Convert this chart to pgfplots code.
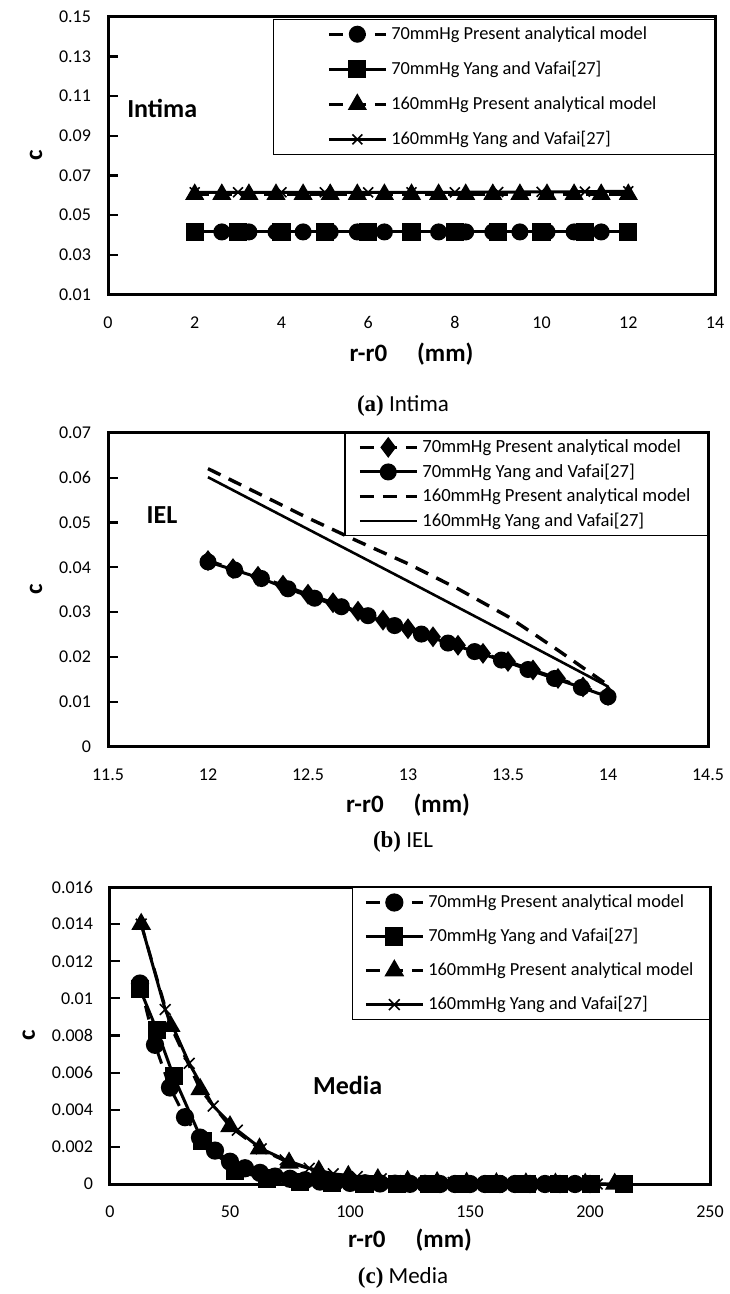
\documentclass[border=0pt]{standalone}
\usepackage{fontspec}
\setmainfont{Carlito}
\newfontfamily\capserif{Liberation Serif}
\usepackage{pgfplots}
\pgfplotsset{compat=1.18}

\pgfplotsset{
  panel/.style={
    scale only axis,
    anchor=south west,
    axis line style={line width=1.5pt},
    /pgf/number format/assume math mode=true,
    tick label style={font=\fontsize{9}{10}\selectfont},
    yticklabel style={/pgf/number format/fixed,/pgf/number format/precision=3,xshift=-5pt},
    xticklabel style={/pgf/number format/fixed,yshift=-7.5pt},
    scaled y ticks=false, scaled x ticks=false,
    xtick style={draw=none},
    ytick style={draw=black,line width=1.1pt},
    ytick pos=left,
    tick align=inside,
    major tick length=5pt,
    xlabel={\textbf{r-r0\hspace{1.2em}(mm)}},
    ylabel={\textbf{c}},
    ylabel style={yshift=1.5pt},
    label style={font=\fontsize{12.5}{14}\selectfont},
    legend cell align=left,
    legend style={draw=black,line width=0.6pt,anchor=north east,
      font=\fontsize{9.2}{10}\selectfont},
    legend image code/.code={\draw[mark repeat=2,mark phase=2]
      plot coordinates {(0cm,0cm) (0.5cm,0cm) (1cm,0cm)};},
  },
  ser/.style={black,line width=1.5pt,mark options={solid,fill=black}},
  dsh/.style={dash pattern=on 7pt off 4.5pt},
}

\begin{document}
\begin{tikzpicture}
\path[use as bounding box] (0,0) rectangle (364.5pt,-647pt);

% ---------- (a) Intima
\begin{axis}[panel, at={(54pt,-147.2pt)}, width=303.5pt, height=138.8pt,
  xmin=0, xmax=14, xtick={0,2,4,6,8,10,12,14},
  ymin=0.01, ymax=0.15, ytick={0.01,0.03,0.05,0.07,0.09,0.11,0.13,0.15},
  legend style={at={(1,0.993)},inner xsep=27pt,inner ysep=1.5pt,row sep=5.5pt}]
\addplot[ser,dsh,mark=*,mark size=3.5pt] coordinates {
(2,0.0415) (2.625,0.0415) (3.25,0.0415) (3.875,0.0415) (4.5,0.0415)
(5.125,0.0415) (5.75,0.0415) (6.375,0.0415) (7,0.0415) (7.625,0.0415)
(8.25,0.0415) (8.875,0.0415) (9.5,0.0415) (10.125,0.0415) (10.75,0.0415)
(11.375,0.0415) (12,0.0415)};
\addlegendentry{70mmHg Present analytical model}
\addplot[ser,mark=square*,mark size=3.8pt] coordinates {
(2,0.0415) (3,0.0415) (4,0.0415) (5,0.0415) (6,0.0415) (7,0.0415)
(8,0.0415) (9,0.0415) (10,0.0415) (11,0.0415) (12,0.0415)};
\addlegendentry{70mmHg Yang and Vafai[27]}
\addplot[ser,dsh,mark=triangle*,mark size=4pt] coordinates {
(2,0.0605) (2.625,0.0605) (3.25,0.0605) (3.875,0.0605) (4.5,0.0605)
(5.125,0.0605) (5.75,0.0605) (6.375,0.0605) (7,0.0605) (7.625,0.0605)
(8.25,0.0605) (8.875,0.0605) (9.5,0.0605) (10.125,0.0605) (10.75,0.0605)
(11.375,0.0605) (12,0.0605)};
\addlegendentry{160mmHg Present analytical model}
\addplot[ser,mark=x,mark size=3.5pt,mark options={line width=0.8pt}] coordinates {
(2,0.0615) (3,0.0615) (4,0.0615) (5,0.0615) (6,0.0615) (7,0.0615)
(8,0.0615) (9,0.0616) (10,0.0617) (11,0.0618) (12,0.062)};
\addlegendentry{160mmHg Yang and Vafai[27]}
\node[font=\fontsize{13}{15}\selectfont\bfseries] at (axis cs:1.25,0.104) {Intima};
\end{axis}
\node[font=\fontsize{11.5}{13}\selectfont] at (201.5pt,-203pt) {{\capserif\bfseries (a)} Intima};

% ---------- (b) IEL
\begin{axis}[panel, at={(54pt,-373.3pt)}, width=300pt, height=156.9pt,
  xmin=11.5, xmax=14.5, xtick={11.5,12,12.5,13,13.5,14,14.5},
  ymin=0, ymax=0.07, ytick={0,0.01,0.02,0.03,0.04,0.05,0.06,0.07},
  legend style={at={(1,1)},inner xsep=6.5pt,inner ysep=1pt,row sep=0.2pt,
    font=\fontsize{9.3}{10}\selectfont}]
\addplot[ser,dsh,mark=diamond*,mark size=4pt] coordinates {
(12.000,0.0415) (12.125,0.0397) (12.250,0.0380) (12.375,0.0360)
(12.500,0.0340) (12.625,0.0321) (12.750,0.0302) (12.875,0.0282)
(13.000,0.0263) (13.125,0.0245) (13.250,0.0226) (13.375,0.0208)
(13.500,0.0190) (13.625,0.0171) (13.750,0.0152) (13.875,0.0133)
(14.000,0.0114)};
\addlegendentry{70mmHg Present analytical model}
\addplot[ser,mark=*,mark size=3.5pt] coordinates {
(12.000,0.0412) (12.133,0.0394) (12.267,0.0375) (12.400,0.0352)
(12.533,0.0331) (12.667,0.0312) (12.800,0.0292) (12.933,0.0270)
(13.067,0.0251) (13.200,0.0231) (13.333,0.0212) (13.467,0.0193)
(13.600,0.0172) (13.733,0.0152) (13.867,0.0132) (14.000,0.0111)};
\addlegendentry{70mmHg Yang and Vafai[27]}
\addplot[ser,dsh,line width=1.7pt] coordinates {
(12.00,0.0620) (12.25,0.0565) (12.50,0.0510) (12.75,0.0458)
(13.00,0.0408) (13.25,0.0352) (13.50,0.0290) (13.75,0.0215) (14.00,0.0137)};
\addlegendentry{160mmHg Present analytical model}
\addplot[ser,line width=1.3pt] coordinates {
(12.0,0.0601) (12.5,0.0485) (13.0,0.0369) (13.5,0.0252) (14.0,0.0134)};
\addlegendentry{160mmHg Yang and Vafai[27]}
\node[font=\fontsize{13}{15}\selectfont\bfseries] at (axis cs:11.77,0.0516) {IEL};
\end{axis}
\node[font=\fontsize{11.5}{13}\selectfont] at (201.5pt,-421pt) {{\capserif\bfseries (b)} IEL};

% ---------- (c) Media
\begin{axis}[panel, at={(55pt,-592pt)}, width=300pt, height=148.5pt,
  xmin=0, xmax=250, xtick={0,50,100,150,200,250},
  ymin=0, ymax=0.016, ytick={0,0.002,0.004,0.006,0.008,0.01,0.012,0.014,0.016},
  xlabel style={yshift=1.5pt},
  legend style={at={(1,1)},inner xsep=6pt,inner ysep=1.5pt,row sep=5pt}]
\addplot[ser,dsh,mark=*,mark size=3.8pt] coordinates {
(12.5,0.0108) (18.75,0.0075) (25,0.0052) (31.25,0.0036) (37.5,0.0025)
(43.75,0.0018) (50,0.0012) (56.25,0.00085) (62.5,0.0006) (68.75,0.0004)
(75,0.00028) (81.25,0.0002) (87.5,0.00013) (93.75,0.00009) (100,0.00006)
(106.25,0.00004) (112.5,0.00003) (118.75,0.00002) (125,0.00001) (131.25,0.00001)
(137.5,0) (143.75,0) (150,0) (156.25,0) (162.5,0) (168.75,0) (175,0)
(181.25,0) (187.5,0) (193.75,0) (200,0)};
\addlegendentry{70mmHg Present analytical model}
\addplot[ser,mark=square*,mark size=3.8pt] coordinates {
(12.5,0.0105) (19.5,0.0083) (26.5,0.0058) (38.5,0.0023) (52,0.0007)
(65.5,0.0003) (79,0.0001) (92.5,0.00005) (106,0.00002) (119.5,0.00001)
(133,0) (146.5,0) (160,0) (173.5,0) (187,0) (200.5,0) (214,0)};
\addlegendentry{70mmHg Yang and Vafai[27]}
\addplot[ser,dsh,mark=triangle*,mark size=4.2pt] coordinates {
(13,0.0140) (25.3,0.0085) (37.6,0.0051) (50,0.0031) (62.3,0.0019)
(74.6,0.00114) (87,0.0007) (99.3,0.00042) (111.6,0.00025) (124,0.00015)
(136.3,0.00009) (148.6,0.00006) (161,0.00003) (173.3,0.00002) (185.6,0.00001)
(198,0) (210.3,0)};
\addlegendentry{160mmHg Present analytical model}
\addplot[ser,mark=x,mark size=3.8pt,mark options={line width=0.8pt}] coordinates {
(13,0.0140) (23,0.0094) (33,0.0065) (43,0.0042) (53,0.0029) (63,0.0019)
(73,0.0013) (83,0.00085) (93,0.00055) (103,0.0004) (113,0.00028)
(123,0.00018) (133,0.00012) (143,0.00008) (153,0.00005) (163,0.00003)
(173,0.00002) (183,0.00001) (193,0) (203,0) (213,0)};
\addlegendentry{160mmHg Yang and Vafai[27]}
\node[font=\fontsize{13}{15}\selectfont\bfseries] at (axis cs:99,0.0053) {Media};
\end{axis}
\node[font=\fontsize{11.5}{13}\selectfont] at (201.5pt,-639pt) {{\capserif\bfseries (c)} Media};
\end{tikzpicture}
\end{document}
